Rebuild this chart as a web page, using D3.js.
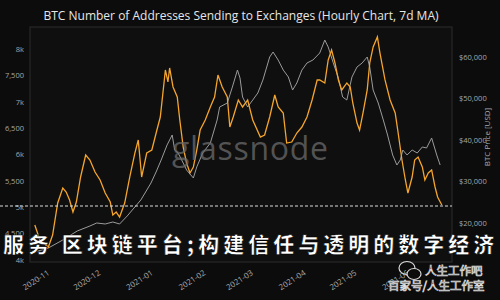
<!DOCTYPE html>
<html>
<head>
<meta charset="utf-8">
<script src="https://cdn.jsdelivr.net/npm/d3@7"></script>
<style>
  html, body { margin: 0; padding: 0; background: #0c0c0c; }
  svg { display: block; }
</style>
</head>
<body>
<svg id="chart" width="500" height="300"></svg>
<script>
// addresses sending to exchanges, 7d MA (left axis)
const addrDates = ["2020-10-26 00","2020-10-29 00","2020-11-03 00","2020-11-05 12","2020-11-08 12","2020-11-11 12","2020-11-13 12","2020-11-15 12","2020-11-17 12","2020-11-19 12","2020-11-22 00","2020-11-25 00","2020-11-27 12","2020-11-30 12","2020-12-03 12","2020-12-06 12","2020-12-09 12","2020-12-11 00","2020-12-13 00","2020-12-15 00","2020-12-18 00","2020-12-21 00","2020-12-24 00","2020-12-26 00","2020-12-28 00","2020-12-31 00","2021-01-03 00","2021-01-06 00","2021-01-08 00","2021-01-11 00","2021-01-12 12","2021-01-13 12","2021-01-15 12","2021-01-18 00","2021-01-19 12","2021-01-21 12","2021-01-23 12","2021-01-25 12","2021-01-27 12","2021-01-29 12","2021-01-31 12","2021-02-03 12","2021-02-06 12","2021-02-09 00","2021-02-11 00","2021-02-13 12","2021-02-16 12","2021-02-18 00","2021-02-20 00","2021-02-23 00","2021-02-25 12","2021-02-28 12","2021-03-03 12","2021-03-08 00","2021-03-10 12","2021-03-13 12","2021-03-16 12","2021-03-18 12","2021-03-21 12","2021-03-23 12","2021-03-26 12","2021-03-29 12","2021-04-01 12","2021-04-04 12","2021-04-07 12","2021-04-10 12","2021-04-12 00","2021-04-15 00","2021-04-17 00","2021-04-19 00","2021-04-21 00","2021-04-23 00","2021-04-25 00","2021-04-28 00","2021-04-30 00","2021-05-01 12","2021-05-04 00","2021-05-05 12","2021-05-07 12","2021-05-10 00","2021-05-11 12","2021-05-13 12","2021-05-16 00","2021-05-17 12","2021-05-20 12","2021-05-23 12","2021-05-26 12","2021-05-28 00","2021-05-30 12","2021-06-01 12","2021-06-03 00","2021-06-05 12","2021-06-07 00","2021-06-09 00","2021-06-11 12","2021-06-13 00","2021-06-15 00","2021-06-17 00","2021-06-19 00","2021-06-20 12","2021-06-23 00"];
const addrValues = [4658,4373,4240,4468,5076,5361,5285,5133,4905,5095,5570,5988,5893,5665,5513,5266,5095,4848,4905,4810,5076,5570,6025,6272,5570,6025,6082,6462,6709,7602,7374,7640,7279,7089,6652,6139,5836,5646,5760,6082,6462,6652,6899,7089,7507,7279,7089,6519,6709,7032,6899,7032,6652,6329,6367,6709,7127,6899,6785,6215,6234,6405,6519,6709,7032,7412,7412,7355,7792,7982,7735,7412,7222,7355,7279,6975,6595,6462,6785,7222,7735,8039,8229,7925,7412,7032,6785,6462,5893,5513,5266,5570,5893,5950,5760,5513,5646,5703,5380,5190,5038];

// BTC price in USD (right axis)
const priceDates = ["2020-10-26 00","2020-11-03 00","2020-11-11 12","2020-11-20 00","2020-11-27 12","2020-12-01 12","2020-12-06 12","2020-12-11 00","2020-12-15 00","2020-12-19 12","2020-12-24 00","2020-12-27 12","2020-12-30 00","2021-01-02 12","2021-01-05 12","2021-01-08 12","2021-01-12 00","2021-01-15 00","2021-01-16 12","2021-01-18 12","2021-01-21 12","2021-01-23 12","2021-01-27 12","2021-01-29 12","2021-02-02 00","2021-02-06 12","2021-02-10 12","2021-02-12 00","2021-02-16 12","2021-02-19 12","2021-02-22 12","2021-02-24 00","2021-02-25 12","2021-02-28 12","2021-03-03 12","2021-03-06 12","2021-03-09 12","2021-03-13 12","2021-03-15 12","2021-03-18 12","2021-03-21 12","2021-03-24 12","2021-03-27 00","2021-03-29 12","2021-04-01 12","2021-04-04 12","2021-04-08 00","2021-04-12 00","2021-04-15 00","2021-04-17 00","2021-04-20 00","2021-04-23 00","2021-04-25 12","2021-04-28 00","2021-05-01 00","2021-05-04 00","2021-05-07 00","2021-05-10 00","2021-05-11 12","2021-05-13 12","2021-05-16 12","2021-05-19 12","2021-05-22 00","2021-05-25 00","2021-05-27 12","2021-05-29 12","2021-05-31 00","2021-06-02 12","2021-06-05 12","2021-06-08 12","2021-06-11 12","2021-06-14 00","2021-06-17 00","2021-06-20 00","2021-06-22 00"];
const priceValues = [13010,13975,15900,18070,19280,20000,19760,20240,19760,21690,23860,25540,27230,29640,32290,35180,38800,41210,37590,36870,34460,32770,30850,33500,36870,39280,44820,47960,48920,52780,56870,54950,50370,47960,49640,51330,54460,60010,61210,59280,56870,55190,52050,53740,56870,58560,59280,60970,64100,62420,58560,54950,50370,49640,55190,57600,58560,60010,57600,52050,48920,44820,41210,36390,33980,35180,37590,36390,37590,36870,38320,38080,40490,36390,33980];

const leftTicks = [4000,4500,5000,5500,6000,6500,7000,7500,8000];
const leftTickLabels = ["4k","4,500","5k","5,500","6k","6,500","7k","7,500","8k"];
const rightTicks = [20000,30000,40000,50000,60000];
const rightTickLabels = ["$20,000","$30,000","$40,000","$50,000","$60,000"];
const monthTicks = ["2020-11-01 00","2020-12-01 00","2021-01-01 00","2021-02-01 00","2021-03-01 00","2021-04-01 00","2021-05-01 00","2021-06-01 00"];
const monthLabels = ["2020-11","2020-12","2021-01","2021-02","2021-03","2021-04","2021-05","2021-06"];

const parse = d3.utcParse("%Y-%m-%d %H");
const W = 500, H = 300;
const plot = {left: 30, right: 452, top: 27, bottom: 262};

const svg = d3.select('#chart');
svg.append('rect').attr('width', W).attr('height', H).attr('fill', '#0c0c0c');

const x = d3.scaleUtc()
  .domain([parse("2020-10-23 04"), parse("2021-06-29 00")])
  .range([plot.left, plot.right]);
const yL = d3.scaleLinear().domain([3956, 8418]).range([plot.bottom, plot.top]);
const yR = d3.scaleLinear().domain([10600, 67240]).range([plot.bottom, plot.top]);

svg.append('rect')
  .attr('x', plot.left).attr('y', plot.top)
  .attr('width', plot.right - plot.left).attr('height', plot.bottom - plot.top)
  .attr('fill', '#0f0f0f').attr('stroke', '#2c2c2c').attr('stroke-width', 1);

// title
svg.append('text')
  .attr('x', 241).attr('y', 20)
  .attr('text-anchor', 'middle')
  .style('font-family', 'Open Sans, sans-serif')
  .style('font-size', '12px')
  .attr('fill', '#e6e6e6')
  .text('BTC Number of Addresses Sending to Exchanges (Hourly Chart, 7d MA)');

// axes
const axisFont = g => g.selectAll('text')
  .style('font-family', 'Open Sans, sans-serif').style('font-size', '7.5px').attr('fill', '#a8a8a8');

svg.append('g')
  .attr('transform', `translate(${plot.left - 3},0)`)
  .call(d3.axisLeft(yL).tickValues(leftTicks).tickFormat((d, i) => leftTickLabels[i]).tickSize(0))
  .call(g => g.select('.domain').remove())
  .call(axisFont);

svg.append('g')
  .attr('transform', `translate(${plot.right + 4},0)`)
  .call(d3.axisRight(yR).tickValues(rightTicks).tickFormat((d, i) => rightTickLabels[i]).tickSize(0))
  .call(g => g.select('.domain').remove())
  .call(axisFont);

svg.append('text')
  .attr('transform', 'translate(490,137) rotate(-90)')
  .attr('text-anchor', 'middle')
  .style('font-family', 'Open Sans, sans-serif').style('font-size', '8px')
  .attr('fill', '#a8a8a8')
  .text('BTC Price [USD]');

const xAxisG = svg.append('g')
  .attr('transform', `translate(0,${plot.bottom + 5})`)
  .call(d3.axisBottom(x).tickValues(monthTicks.map(parse)).tickFormat((d, i) => monthLabels[i]).tickSize(0))
  .call(g => g.select('.domain').remove())
  .call(axisFont);
xAxisG.selectAll('text')
  .style('font-size', '8px')
  .attr('text-anchor', 'end')
  .attr('dy', '0.7em')
  .attr('transform', 'rotate(-33)');

// lines
const priceData = priceDates.map((d, i) => ({date: parse(d), value: priceValues[i]}));
const addrData = addrDates.map((d, i) => ({date: parse(d), value: addrValues[i]}));

svg.append('path')
  .datum(priceData)
  .attr('fill', 'none')
  .attr('stroke', '#9b9b9b')
  .attr('stroke-width', 1)
  .attr('d', d3.line().x(d => x(d.date)).y(d => yR(d.value)));

svg.append('path')
  .datum(addrData)
  .attr('fill', 'none')
  .attr('stroke', '#f5a52c')
  .attr('stroke-width', 1.3)
  .attr('d', d3.line().x(d => x(d.date)).y(d => yL(d.value)));

// glassnode watermark
svg.append('text')
  .attr('x', 172).attr('y', 160)
  .attr('textLength', 156)
  .style('font-family', 'Open Sans, sans-serif').style('font-size', '32px')
  .attr('fill', '#6a6a6a').attr('fill-opacity', 0.75)
  .text('glassnode');

// dashed overlay line
svg.append('line')
  .attr('x1', 0).attr('x2', plot.right)
  .attr('y1', 206).attr('y2', 206)
  .attr('stroke', '#dcdcdc').attr('stroke-width', 1.2)
  .attr('stroke-dasharray', '3,2');

// banner text
svg.append('text')
  .attr('x', 3).attr('y', 252)
  .style('font-family', '"Noto Sans CJK SC", sans-serif')
  .style('font-size', '21px').style('font-weight', 900)
  .style('letter-spacing', '4px')
  .attr('fill', '#ffffff').attr('stroke', '#000').attr('stroke-width', 0.6)
  .text('服务 区块链平台;构建信任与透明的数字经济');

// wechat mark
const wx = svg.append('g').attr('transform', 'translate(409,271)');
wx.append('ellipse').attr('cx', -2).attr('cy', -3).attr('rx', 8).attr('ry', 6.5)
  .attr('fill', 'none').attr('stroke', '#d8d8d8').attr('stroke-width', 1.2);
wx.append('ellipse').attr('cx', 5).attr('cy', 3).attr('rx', 7).attr('ry', 5.5)
  .attr('fill', '#0c0c0c').attr('stroke', '#d8d8d8').attr('stroke-width', 1.2);
svg.append('text')
  .attr('x', 425).attr('y', 275)
  .style('font-family', '"Noto Sans CJK SC", sans-serif').style('font-size', '11.5px')
  .attr('fill', '#1a1a1a').attr('stroke', '#e0e0e0').attr('stroke-width', 0.7)
  .text('人生工作吧');
svg.append('text')
  .attr('x', 388).attr('y', 290)
  .style('font-family', '"Noto Sans CJK SC", sans-serif').style('font-size', '11.5px')
  .attr('fill', '#1a1a1a').attr('stroke', '#e0e0e0').attr('stroke-width', 0.7)
  .text('百家号/人生工作室');
</script>
</body>
</html>
